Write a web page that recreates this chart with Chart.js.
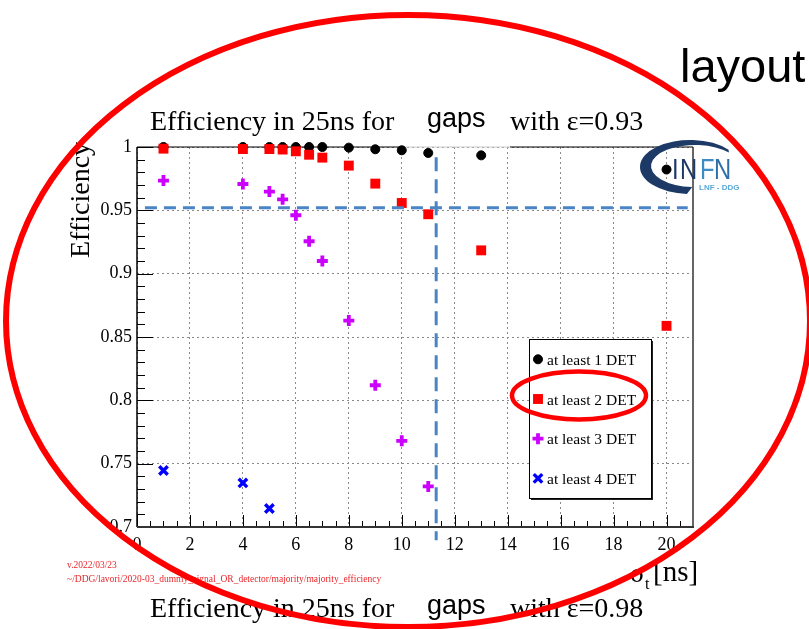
<!DOCTYPE html>
<html>
<head>
<meta charset="utf-8">
<title>Efficiency in 25ns</title>
<script src="https://cdn.jsdelivr.net/npm/chart.js@4.4.1/dist/chart.umd.min.js"></script>
<style>
html, body { margin: 0; padding: 0; background: #fff; }
#wrap { width: 809px; height: 629px; position: relative; }
</style>
</head>
<body>
<div id="wrap"><canvas id="chart"></canvas></div>
<script>
// efficiency vs sigma_t, majority of N detectors
const SERIES_LABELS = ['at least 1 DET', 'at least 2 DET', 'at least 3 DET', 'at least 4 DET'];
const SERIES_COLORS = ['#000000', '#ff0000', '#cc00ff', '#0000ff'];

const SIGMA_12 = [1, 4, 5, 5.5, 6, 6.5, 7, 8, 9, 10, 11, 13, 20];
const EFF_1 = [1.0, 1.0, 1.0, 1.0, 1.0, 1.0, 1.0, 0.9995, 0.9982, 0.9974, 0.9953, 0.9934, 0.9822];
const EFF_2 = [0.9987, 0.9984, 0.9984, 0.998, 0.9966, 0.9939, 0.9916, 0.9853, 0.9711, 0.9558, 0.9469, 0.9184, 0.8588];
const SIGMA_3 = [1, 4, 5, 5.5, 6, 6.5, 7, 8, 9, 10, 11];
const EFF_3 = [0.9735, 0.9708, 0.9648, 0.9587, 0.9461, 0.9256, 0.910, 0.863, 0.8119, 0.768, 0.732];
const SIGMA_4 = [1, 4, 5];
const EFF_4 = [0.7446, 0.7348, 0.7146];

const X_TICKS = [0, 2, 4, 6, 8, 10, 12, 14, 16, 18, 20];
const Y_TICKS = [0.7, 0.75, 0.8, 0.85, 0.9, 0.95, 1];

// reference cut lines
const EFF_CUT = 0.952;
const EFF_CUT_RANGE = [0.3, 20.8];
const SIGMA_CUT = 11.3;
const SIGMA_CUT_RANGE = [0.992, 0.6895];

const SERIF = '"Liberation Serif", "DejaVu Serif", serif';
const SANS = '"Liberation Sans", Arial, sans-serif';
const CUT_COLOR = '#4a84c4';

function pts(xs, ys) {
    return xs.map((x, i) => ({ x, y: ys[i] }));
}

const markerStyles = [
    { pointStyle: 'circle', pointRadius: 4.5, borderWidth: 1 },
    { pointStyle: 'rect', pointRadius: 7, borderWidth: 0 },
    { pointStyle: 'cross', pointRadius: 5.5, borderWidth: 3.8 },
    { pointStyle: 'crossRot', pointRadius: 6, borderWidth: 3.4 },
];

const seriesData = [pts(SIGMA_12, EFF_1), pts(SIGMA_12, EFF_2), pts(SIGMA_3, EFF_3), pts(SIGMA_4, EFF_4)];

const datasets = seriesData.map((data, i) => ({
    label: SERIES_LABELS[i],
    data,
    showLine: false,
    backgroundColor: SERIES_COLORS[i],
    borderColor: SERIES_COLORS[i],
    pointStyle: markerStyles[i].pointStyle,
    pointRadius: markerStyles[i].pointRadius,
    pointBorderWidth: markerStyles[i].borderWidth,
    pointHoverRadius: markerStyles[i].pointRadius,
    order: 4 - i,
    clip: false,
}));

datasets.push({
    label: 'eff cut',
    type: 'line',
    data: EFF_CUT_RANGE.map(x => ({ x, y: EFF_CUT })),
    borderColor: CUT_COLOR,
    borderWidth: 3,
    borderDash: [12, 7],
    pointRadius: 0,
    order: 0,
    clip: false,
});
datasets.push({
    label: 'sigma cut',
    type: 'line',
    data: SIGMA_CUT_RANGE.map(y => ({ x: SIGMA_CUT, y })),
    borderColor: CUT_COLOR,
    borderWidth: 3,
    borderDash: [14, 8],
    pointRadius: 0,
    order: 0,
    clip: false,
});

// ROOT style frame with inward ticks
const framePlugin = {
    id: 'frame',
    beforeDraw(chart) {
        const ctx = chart.ctx;
        ctx.save();
        ctx.fillStyle = '#fff';
        ctx.fillRect(0, 0, chart.width, chart.height);
        ctx.restore();
    },
    beforeDatasetsDraw(chart) {
        const { ctx, chartArea: a, scales: { x, y } } = chart;
        ctx.save();
        ctx.strokeStyle = '#000';
        ctx.lineWidth = 1;
        ctx.beginPath();
        for (let i = 0; i <= 30; i++) {
            const py = Math.round(y.getPixelForValue(0.7 + i * 0.01)) + 0.5;
            const len = i % 5 === 0 ? 16 : 8;
            ctx.moveTo(a.left, py);
            ctx.lineTo(a.left + len, py);
        }
        for (let i = 0; i <= 42; i++) {
            const px = Math.round(x.getPixelForValue(i * 0.5)) + 0.5;
            const len = i % 4 === 0 ? 12 : 6;
            ctx.moveTo(px, a.bottom);
            ctx.lineTo(px, a.bottom - len);
        }
        ctx.stroke();

        // right edge
        ctx.strokeStyle = '#666';
        ctx.lineWidth = 2;
        ctx.beginPath();
        ctx.moveTo(a.right, a.top);
        ctx.lineTo(a.right, a.bottom + 1);
        ctx.stroke();

        // top edge, lighter where the title patch sits
        ctx.lineWidth = 1.2;
        ctx.strokeStyle = '#000';
        ctx.beginPath();
        ctx.moveTo(a.left, a.top);
        ctx.lineTo(403, a.top);
        ctx.moveTo(510, a.top);
        ctx.lineTo(a.right, a.top);
        ctx.stroke();
        ctx.strokeStyle = '#ccc';
        ctx.beginPath();
        ctx.moveTo(403, a.top);
        ctx.lineTo(510, a.top);
        ctx.stroke();

        // left and bottom axes
        ctx.strokeStyle = '#000';
        ctx.lineWidth = 1.5;
        ctx.beginPath();
        ctx.moveTo(a.left, a.top);
        ctx.lineTo(a.left, a.bottom);
        ctx.stroke();
        ctx.strokeStyle = '#333';
        ctx.lineWidth = 2;
        ctx.beginPath();
        ctx.moveTo(a.left, a.bottom);
        ctx.lineTo(a.right + 1, a.bottom);
        ctx.stroke();
        ctx.restore();
    },
};

function drawMarker(ctx, i, px, py) {
    ctx.save();
    ctx.fillStyle = SERIES_COLORS[i];
    ctx.strokeStyle = SERIES_COLORS[i];
    ctx.lineWidth = markerStyles[i].borderWidth;
    Chart.helpers.drawPoint(ctx, {
        pointStyle: markerStyles[i].pointStyle,
        radius: markerStyles[i].pointRadius,
        rotation: 0,
        borderWidth: markerStyles[i].borderWidth,
    }, px, py);
    ctx.restore();
}

function drawLogo(ctx) {
    ctx.save();
    // swoosh
    ctx.fillStyle = '#1d3a66';
    ctx.beginPath();
    ctx.ellipse(690, 167, 50, 27, 0, Math.PI * 0.52, Math.PI * 1.78, false);
    ctx.ellipse(695, 166, 44, 21, 0, Math.PI * 1.78, Math.PI * 0.52, true);
    ctx.closePath();
    ctx.fill();

    ctx.font = '29px ' + SANS;
    ctx.textBaseline = 'alphabetic';
    const letters = [['I', 672, '#1d3a66'], ['N', 680, '#1d3a66'], ['F', 700, '#3d8cc4'], ['N', 714, '#2f6fa8']];
    letters.forEach(([ch, lx, col]) => {
        ctx.fillStyle = col;
        ctx.save();
        ctx.translate(lx, 179);
        ctx.scale(0.82, 1);
        ctx.fillText(ch, 0, 0);
        ctx.restore();
    });
    ctx.fillStyle = '#5aa9d6';
    ctx.font = 'bold 8px ' + SANS;
    ctx.fillText('LNF - DDG', 699, 190);
    ctx.restore();
}

function drawTitleLine(ctx, baseline, eps) {
    ctx.fillStyle = '#000';
    ctx.font = '28px ' + SERIF;
    ctx.fillText('Efficiency in 25ns for', 150, baseline);
    ctx.fillText('with \u03b5=' + eps, 510, baseline);
    ctx.font = '27px ' + SANS;
    ctx.fillText('gaps', 427, baseline - 3);
}

const decorPlugin = {
    id: 'decor',
    afterDraw(chart) {
        const ctx = chart.ctx;
        ctx.save();
        ctx.textBaseline = 'alphabetic';
        ctx.textAlign = 'left';

        drawTitleLine(ctx, 130, '0.93');
        drawTitleLine(ctx, 617, '0.98');

        // y title
        ctx.save();
        ctx.font = '28px ' + SERIF;
        ctx.translate(89, 258);
        ctx.rotate(-Math.PI / 2);
        ctx.fillText('Efficiency', 0, 0);
        ctx.restore();

        // x title
        ctx.font = '27px ' + SERIF;
        ctx.fillText('\u03c3', 630, 582);
        ctx.font = '16px ' + SERIF;
        ctx.fillText('t', 645, 589);
        ctx.font = '29px ' + SERIF;
        ctx.fillText('[ns]', 653, 581);

        // legend
        const lx = 529, ly = 339, lw = 122, lh = 159;
        ctx.fillStyle = '#222';
        ctx.fillRect(lx + 2, ly + 2, lw, lh);
        ctx.fillStyle = '#fff';
        ctx.fillRect(lx, ly, lw, lh);
        ctx.strokeStyle = '#000';
        ctx.lineWidth = 1;
        ctx.strokeRect(lx + 0.5, ly + 0.5, lw, lh);
        ctx.font = '15.5px ' + SERIF;
        SERIES_LABELS.forEach((label, i) => {
            const cy = 359.3 + i * 39.7;
            drawMarker(ctx, i, 538, cy);
            ctx.fillStyle = '#000';
            ctx.fillText(label, 547, cy + 5.5);
        });

        drawLogo(ctx);

        // file stamp
        ctx.fillStyle = '#e8262a';
        ctx.font = '9.5px ' + SERIF;
        ctx.fillText('v.2022/03/23', 67, 568);
        ctx.fillText('~/DDG/lavori/2020-03_dummy_signal_OR_detector/majority/majority_efficiency', 67, 582);

        ctx.fillStyle = '#000';
        ctx.font = '47px ' + SANS;
        ctx.fillText('layout', 680, 82);

        // highlight rings
        ctx.strokeStyle = '#ff0000';
        ctx.lineWidth = 6;
        ctx.beginPath();
        ctx.ellipse(408, 321, 402, 306, 0, 0, Math.PI * 2);
        ctx.stroke();
        ctx.lineWidth = 4.5;
        ctx.beginPath();
        ctx.ellipse(579, 395.5, 67, 24, 0, 0, Math.PI * 2);
        ctx.stroke();
        ctx.restore();
    },
};

const ctx = document.getElementById('chart').getContext('2d');
const chart = new Chart(ctx, {
    type: 'scatter',
    data: { datasets },
    options: {
        responsive: true,
        maintainAspectRatio: false,
        animation: false,
        devicePixelRatio: 1,
        layout: { padding: { left: 0, top: 147, right: 116, bottom: 0 } },
        plugins: {
            legend: { display: false },
            tooltip: { enabled: false },
        },
        scales: {
            x: {
                type: 'linear',
                min: 0,
                max: 21,
                afterBuildTicks: s => { s.ticks = X_TICKS.map(v => ({ value: v })); },
                afterFit: s => { s.height = 102; },
                grid: { color: '#8a8a8a', lineWidth: 1, drawTicks: false },
                border: { display: false, dash: [2, 3] },
                ticks: {
                    padding: 7,
                    color: '#000',
                    font: { family: SERIF, size: 18 },
                    maxRotation: 0,
                    callback: v => String(v),
                },
            },
            y: {
                type: 'linear',
                min: 0.7,
                max: 1,
                afterBuildTicks: s => { s.ticks = Y_TICKS.map(v => ({ value: v })); },
                afterFit: s => { s.width = 137; },
                grid: { color: '#8a8a8a', lineWidth: 1, drawTicks: false },
                border: { display: false, dash: [2, 3] },
                ticks: {
                    padding: 5,
                    color: '#000',
                    font: { family: SERIF, size: 18 },
                    callback: v => String(+v.toFixed(2)),
                },
            },
        },
    },
    plugins: [framePlugin, decorPlugin],
});
</script>
</body>
</html>
